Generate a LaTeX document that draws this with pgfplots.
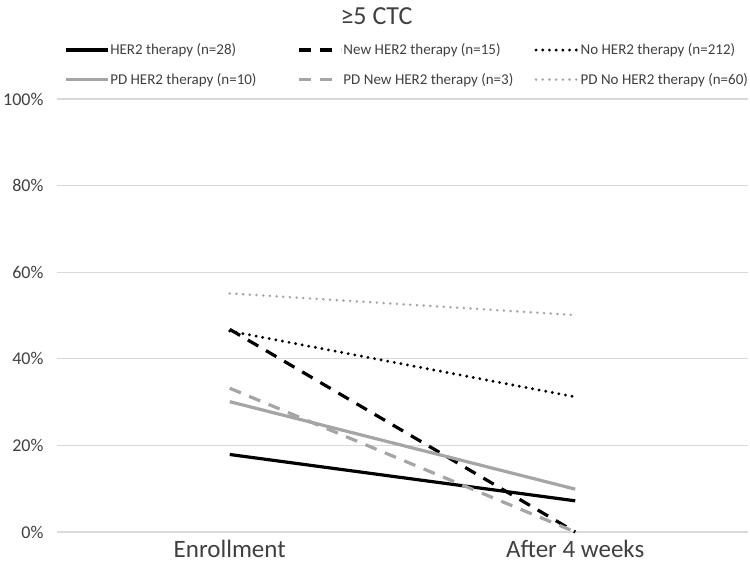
\documentclass[border=0pt]{standalone}
\usepackage{fontspec}
\setmainfont{Carlito}
\usepackage{pgfplots}
\pgfplotsset{compat=1.18}
\definecolor{grayline}{HTML}{A5A5A5}
\definecolor{gridc}{HTML}{D9D9D9}
\definecolor{txt}{HTML}{404040}
\begin{document}
\begin{tikzpicture}
\useasboundingbox (-57pt,-41pt) rectangle (693pt,532pt);
\begin{axis}[
  at={(0pt,0pt)}, anchor=south west,
  scale only axis, width=691pt, height=433pt,
  xmin=-0.5, xmax=1.5, ymin=0, ymax=100,
  xtick={0,1}, xticklabels={Enrollment, After 4 weeks},
  ytick={0,20,...,100},
  yticklabel={\pgfmathprintnumber{\tick}\%},
  /pgf/number format/assume math mode=true,
  axis line style={draw=none},
  major tick length=0pt,
  ymajorgrids, grid style={gridc, line width=1.3pt},
  clip=false,
  xticklabel style={font=\fontsize{25}{29}\selectfont, text=txt, yshift=-5pt},
  yticklabel style={font=\fontsize{18}{21}\selectfont, text=txt, xshift=-10pt},
  title={≥5 CTC},
  title style={font=\fontsize{26}{30}\selectfont, text=txt, at={(0.5,1)}, anchor=center, yshift=77pt, xshift=-26pt},
  legend columns=3,
  legend cell align=left,
  legend style={at={(0.5,1)}, anchor=south, yshift=12pt, xshift=4pt, draw=none, inner sep=0pt,
    font=\fontsize{15}{18}\selectfont, text=txt, column sep=0pt, row sep=15pt,
    nodes={inner xsep=1pt, inner ysep=1pt}},
  legend image code/.code={\draw[#1] (0pt,0pt) -- (42pt,0pt);},
]
\addplot[black, line width=3.2pt] coordinates {(0,17.9) (1,7.2)};
\addlegendentry{\makebox[186pt][l]{HER2 therapy (n=28)}}
\addplot[black, line width=3.2pt, dash pattern=on 12pt off 9pt] coordinates {(0,46.8) (1,0)};
\addlegendentry{\makebox[190pt][l]{New HER2 therapy (n=15)}}
\addplot[black, line width=3.2pt, line cap=round, dash pattern=on 0pt off 6.7pt] coordinates {(0,46.4) (1,31.2)};
\addlegendentry{No HER2 therapy (n=212)}
\addplot[grayline, line width=3.2pt] coordinates {(0,30.1) (1,9.9)};
\addlegendentry{\makebox[186pt][l]{PD HER2 therapy (n=10)}}
\addplot[grayline, line width=3.2pt, dash pattern=on 12pt off 9pt] coordinates {(0,33.2) (1,0)};
\addlegendentry{\makebox[190pt][l]{PD New HER2 therapy (n=3)}}
\addplot[grayline, line width=2.8pt, line cap=round, dash pattern=on 0pt off 6.7pt] coordinates {(0,55.1) (1,50.1)};
\addlegendentry{PD No HER2 therapy (n=60)}
\end{axis}
\end{tikzpicture}
\end{document}
